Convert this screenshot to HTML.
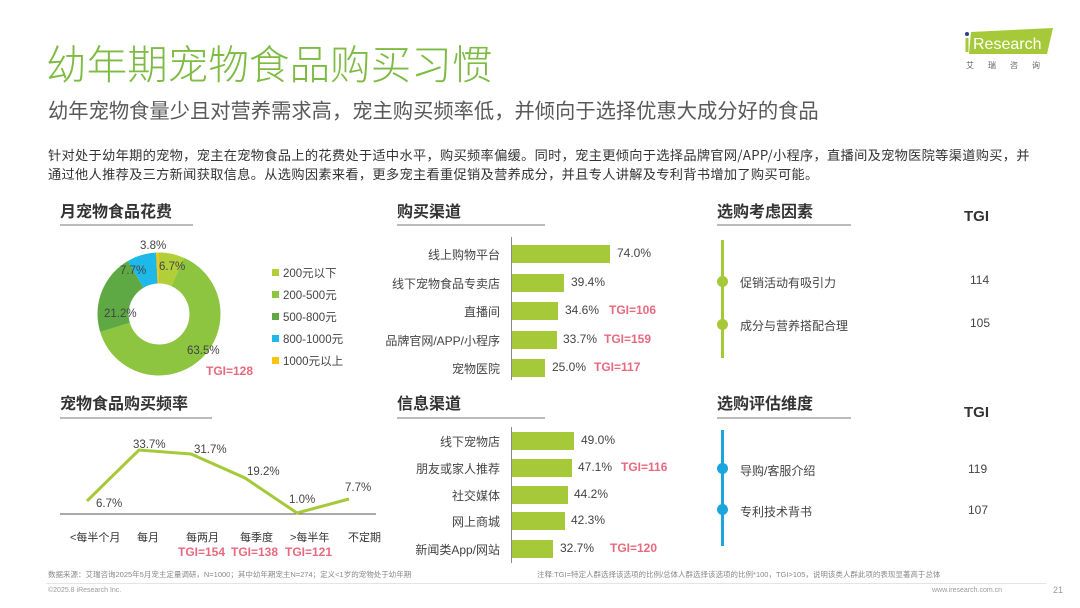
<!DOCTYPE html>
<html><head><meta charset="utf-8"><style>
*{margin:0;padding:0;box-sizing:border-box}
body{width:1080px;height:608px;background:#fff;position:relative;overflow:hidden;font-family:"Liberation Sans","Noto Sans CJK SC",sans-serif;color:#444}
.a{position:absolute;white-space:nowrap}
.h{font-weight:bold;font-size:16px;color:#333}
.ul{position:absolute;height:2px;background:#bbb}
.r{color:#e8697f;font-weight:bold;font-size:12px}
.s{font-size:12px;color:#444}
.bar{position:absolute;height:18px;background:#a6c93a}
</style></head><body>
<div class="a" style="left:46px;top:36px;font-size:40.6px;color:#7dbb42;font-family:'Noto Sans CJK SC',sans-serif;font-weight:300;line-height:52px">幼年期宠物食品购买习惯</div>
<div class="a" style="left:48px;top:94px;font-size:20.3px;color:#595959;font-family:'Noto Sans CJK SC',sans-serif;line-height:30px">幼年宠物食量少且对营养需求高，宠主购买频率低，并倾向于选择优惠大成分好的食品</div>
<div class="a" style="left:48px;top:145px;font-size:13.2px;color:#333;line-height:19px;letter-spacing:0.33px;font-family:'Noto Sans CJK SC',sans-serif">针对处于幼年期的宠物，宠主在宠物食品上的花费处于适中水平，购买频率偏缓。同时，宠主更倾向于选择品牌官网/APP/小程序，直播间及宠物医院等渠道购买，并<br>通过他人推荐及三方新闻获取信息。从选购因素来看，更多宠主看重促销及营养成分，并且专人讲解及专利背书增加了购买可能。</div>
<!-- logo -->
<div class="a" style="left:963px;top:28px;width:90px;height:26px">
<svg width="90" height="26"><polygon points="8,4 90,0 84,26 6,26" fill="#a6c93a"/><circle cx="4" cy="6" r="2" fill="#2a3f8f"/><rect x="2.5" y="10" width="3" height="14" fill="#a6c93a"/><text x="10" y="21" font-size="16" fill="#fff" font-family="Liberation Sans">Research</text></svg></div>
<div class="a" style="left:966px;top:60px;font-size:8px;color:#666;letter-spacing:14px">艾瑞咨询</div>

<!-- headers -->
<div class="a h" style="left:60px;top:198px">月宠物食品花费</div><div class="ul" style="left:60px;top:224px;width:133px"></div>
<div class="a h" style="left:397px;top:198px">购买渠道</div><div class="ul" style="left:397px;top:224px;width:148px"></div>
<div class="a h" style="left:717px;top:198px">选购考虑因素</div><div class="ul" style="left:717px;top:224px;width:134px"></div>
<div class="a h" style="left:964px;top:208px;font-size:15px">TGI</div>
<div class="a h" style="left:60px;top:390px">宠物食品购买频率</div><div class="ul" style="left:60px;top:417px;width:152px"></div>
<div class="a h" style="left:397px;top:390px">信息渠道</div><div class="ul" style="left:397px;top:417px;width:148px"></div>
<div class="a h" style="left:717px;top:390px">选购评估维度</div><div class="ul" style="left:717px;top:417px;width:134px"></div>
<div class="a h" style="left:964px;top:404px;font-size:15px">TGI</div>

<!-- donut -->
<svg class="a" style="left:0;top:0" width="380" height="400">
<g transform="translate(159,314) rotate(-90)" fill="none" stroke-width="31">
<circle r="46" stroke="#b2cf3a" stroke-dasharray="19.36 289.03"/>
<circle r="46" stroke="#8dc440" stroke-dasharray="183.5 289.03" stroke-dashoffset="-19.36"/>
<circle r="46" stroke="#5fa945" stroke-dasharray="61.27 289.03" stroke-dashoffset="-202.86"/>
<circle r="46" stroke="#1eb9e8" stroke-dasharray="22.25 289.03" stroke-dashoffset="-264.13"/>
<circle r="46" stroke="#ffc20e" stroke-dasharray="10.98 289.03" stroke-dashoffset="-286.38"/>
</g>
<g font-size="11.5" fill="#444" font-family="Liberation Sans">
<text x="140" y="249">3.8%</text><text x="159" y="270">6.7%</text><text x="120" y="274">7.7%</text>
<text x="104" y="317">21.2%</text><text x="187" y="354">63.5%</text></g>
<text x="206" y="375" font-size="12" fill="#e8697f" font-weight="bold" font-family="Liberation Sans">TGI=128</text>
<g font-size="11.5" fill="#444" font-family="Liberation Sans,Noto Sans CJK SC">
<rect x="272" y="269" width="7" height="7" fill="#b2cf3a"/><text x="283" y="277">200元以下</text>
<rect x="272" y="291" width="7" height="7" fill="#8dc440"/><text x="283" y="299">200-500元</text>
<rect x="272" y="313" width="7" height="7" fill="#5fa945"/><text x="283" y="321">500-800元</text>
<rect x="272" y="335" width="7" height="7" fill="#1eb9e8"/><text x="283" y="343">800-1000元</text>
<rect x="272" y="357" width="7" height="7" fill="#ffc20e"/><text x="283" y="365">1000元以上</text></g>
</svg>

<!-- line chart -->
<svg class="a" style="left:0;top:400px" width="400" height="170">
<line x1="60" y1="114" x2="376" y2="114" stroke="#555" stroke-width="1"/>
<polyline points="87,112 139,61 191,65 245,89 297,124 349,110" fill="none" stroke="#a6c93a" stroke-width="3" transform="translate(0,-11)"/>
<g font-size="11.5" fill="#444" font-family="Liberation Sans">
<text x="96" y="118" transform="translate(0,-11)">6.7%</text><text x="133" y="59" transform="translate(0,-11)">33.7%</text>
<text x="194" y="64" transform="translate(0,-11)">31.7%</text><text x="247" y="86" transform="translate(0,-11)">19.2%</text>
<text x="289" y="114" transform="translate(0,-11)">1.0%</text><text x="345" y="102" transform="translate(0,-11)">7.7%</text></g>
<g font-size="11" fill="#333" font-family="Liberation Sans,Noto Sans CJK SC">
<text x="70" y="152" transform="translate(0,-11)">&lt;每半个月</text><text x="137" y="152" transform="translate(0,-11)">每月</text>
<text x="186" y="152" transform="translate(0,-11)">每两月</text><text x="240" y="152" transform="translate(0,-11)">每季度</text>
<text x="290" y="152" transform="translate(0,-11)">&gt;每半年</text><text x="348" y="152" transform="translate(0,-11)">不定期</text></g>
<g font-size="12" fill="#e8697f" font-weight="bold" font-family="Liberation Sans">
<text x="178" y="167" transform="translate(0,-11)">TGI=154</text><text x="231" y="167" transform="translate(0,-11)">TGI=138</text><text x="285" y="167" transform="translate(0,-11)">TGI=121</text></g>
</svg>

<!-- purchase channels -->
<div class="a" style="left:511px;top:237px;width:1px;height:143px;background:#888"></div>
<div class="bar" style="left:512px;top:245px;width:98px"></div>
<div class="bar" style="left:512px;top:274px;width:52px"></div>
<div class="bar" style="left:512px;top:302px;width:46px"></div>
<div class="bar" style="left:512px;top:331px;width:45px"></div>
<div class="bar" style="left:512px;top:359px;width:33px"></div>
<div class="a s" style="right:580px;top:246px">线上购物平台</div>
<div class="a s" style="right:580px;top:275px">线下宠物食品专卖店</div>
<div class="a s" style="right:580px;top:303px">直播间</div>
<div class="a s" style="right:580px;top:332px">品牌官网/APP/小程序</div>
<div class="a s" style="right:580px;top:360px">宠物医院</div>
<div class="a s" style="left:617px;top:246px">74.0%</div>
<div class="a s" style="left:571px;top:275px">39.4%</div>
<div class="a s" style="left:565px;top:303px">34.6%</div><div class="a r" style="left:609px;top:303px">TGI=106</div>
<div class="a s" style="left:563px;top:332px">33.7%</div><div class="a r" style="left:604px;top:332px">TGI=159</div>
<div class="a s" style="left:552px;top:360px">25.0%</div><div class="a r" style="left:594px;top:360px">TGI=117</div>

<!-- info channels -->
<div class="a" style="left:511px;top:427px;width:1px;height:136px;background:#888"></div>
<div class="bar" style="left:512px;top:432px;width:62px"></div>
<div class="bar" style="left:512px;top:459px;width:60px"></div>
<div class="bar" style="left:512px;top:486px;width:56px"></div>
<div class="bar" style="left:512px;top:512px;width:53px"></div>
<div class="bar" style="left:512px;top:540px;width:41px"></div>
<div class="a s" style="right:580px;top:433px">线下宠物店</div>
<div class="a s" style="right:580px;top:460px">朋友或家人推荐</div>
<div class="a s" style="right:580px;top:487px">社交媒体</div>
<div class="a s" style="right:580px;top:513px">网上商城</div>
<div class="a s" style="right:580px;top:541px">新闻类App/网站</div>
<div class="a s" style="left:581px;top:433px">49.0%</div>
<div class="a s" style="left:578px;top:460px">47.1%</div><div class="a r" style="left:621px;top:460px">TGI=116</div>
<div class="a s" style="left:574px;top:487px">44.2%</div>
<div class="a s" style="left:571px;top:513px">42.3%</div>
<div class="a s" style="left:560px;top:541px">32.7%</div><div class="a r" style="left:610px;top:541px">TGI=120</div>

<!-- factors -->
<div class="a" style="left:721px;top:240px;width:3px;height:118px;background:#a6c93a"></div>
<div class="a" style="left:717px;top:276px;width:11px;height:11px;border-radius:50%;background:#a6c93a"></div>
<div class="a" style="left:717px;top:319px;width:11px;height:11px;border-radius:50%;background:#a6c93a"></div>
<div class="a s" style="left:740px;top:274px">促销活动有吸引力</div>
<div class="a s" style="left:740px;top:317px">成分与营养搭配合理</div>
<div class="a s" style="left:970px;top:273px">114</div>
<div class="a s" style="left:970px;top:316px">105</div>
<div class="a" style="left:721px;top:430px;width:3px;height:116px;background:#1ba5dc"></div>
<div class="a" style="left:717px;top:463px;width:11px;height:11px;border-radius:50%;background:#1ba5dc"></div>
<div class="a" style="left:717px;top:504px;width:11px;height:11px;border-radius:50%;background:#1ba5dc"></div>
<div class="a s" style="left:740px;top:462px">导购/客服介绍</div>
<div class="a s" style="left:740px;top:503px">专利技术背书</div>
<div class="a s" style="left:968px;top:462px">119</div>
<div class="a s" style="left:968px;top:503px">107</div>

<!-- footer -->
<div class="a" style="left:48px;top:569px;font-size:7.5px;color:#888">数据来源：艾瑞咨询2025年5月宠主定量调研，N=1000；其中幼年期宠主N=274；定义&lt;1岁的宠物处于幼年期</div>
<div class="a" style="left:537px;top:569px;font-size:7.5px;color:#888">注释:TGI=特定人群选择该选项的比例/总体人群选择该选项的比例*100，TGI&gt;105，说明该类人群此项的表现显著高于总体</div>
<div class="a" style="left:46px;top:583px;width:1000px;height:1px;background:#e4e4e4"></div>
<div class="a" style="left:48px;top:587px;font-size:7px;color:#999">©2025.8 iResearch Inc.</div>
<div class="a" style="left:932px;top:587px;font-size:7px;color:#999">www.iresearch.com.cn</div>
<div class="a" style="left:1053px;top:585px;font-size:9px;color:#999">21</div>
</body></html>
